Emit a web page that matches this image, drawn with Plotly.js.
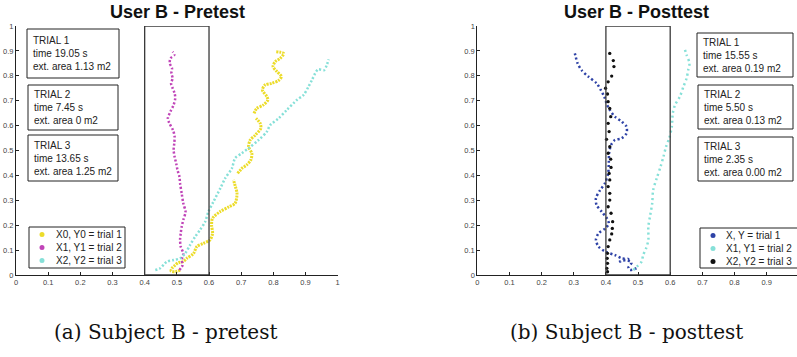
<!DOCTYPE html>
<html>
<head>
<meta charset="utf-8">
<script src="https://cdn.plot.ly/plotly-3.0.1.min.js"></script>
<style>html,body{margin:0;padding:0;background:#fff;}#chart{width:797px;height:357px;}</style>
</head>
<body>
<div id="chart"></div>
<script>
// ---------- Pretest (left) ----------
const preX0 = [0.510,0.495,0.482,0.485,0.495,0.505,0.520,0.531,0.552,0.562,0.582,0.603,0.611,0.608,0.611,0.634,0.662,0.681,0.687,0.682,0.676,null,0.689,0.702,0.717,0.730,0.733,0.723,0.728,0.744,0.761,0.759,0.746,null,0.740,0.748,0.769,0.783,0.780,0.766,0.774,0.795,0.816,0.825,0.811,0.799,0.806,0.821,0.832,0.809];
const preY0 = [0.020,0.013,0.016,0.027,0.040,0.050,0.054,0.067,0.087,0.114,0.127,0.141,0.167,0.201,0.228,0.254,0.274,0.288,0.328,0.355,0.382,null,0.408,0.428,0.442,0.462,0.489,0.515,0.542,0.562,0.589,0.609,0.629,null,0.649,0.669,0.683,0.703,0.716,0.743,0.763,0.770,0.781,0.797,0.817,0.837,0.857,0.870,0.890,0.897];

const preX1 = [0.508,0.518,0.515,0.520,0.512,0.510,0.512,0.515,0.520,0.527,0.520,0.515,0.510,0.508,0.502,0.498,0.493,0.490,0.492,0.493,0.488,0.477,0.472,0.480,0.490,0.495,0.493,0.487,0.482,0.487,0.483,0.485,0.478,0.480,0.492,0.487];
const preY1 = [0.020,0.040,0.060,0.087,0.114,0.141,0.167,0.194,0.221,0.254,0.288,0.328,0.368,0.395,0.422,0.448,0.475,0.502,0.529,0.556,0.582,0.609,0.629,0.656,0.683,0.710,0.730,0.750,0.770,0.790,0.810,0.830,0.850,0.870,0.884,0.897];

const preX2 = [0.433,0.448,0.469,0.490,0.510,0.526,0.541,0.557,0.572,0.588,0.598,0.614,0.635,0.650,0.671,0.681,0.702,0.723,0.754,0.780,0.790,0.816,0.842,0.873,0.894,0.909,0.920,0.933,0.940,0.958,0.966,0.972];
const preY2 = [0.020,0.027,0.054,0.060,0.067,0.087,0.120,0.154,0.181,0.214,0.254,0.295,0.348,0.388,0.428,0.469,0.489,0.509,0.542,0.576,0.602,0.629,0.663,0.703,0.723,0.756,0.783,0.817,0.826,0.823,0.843,0.866];

// ---------- Posttest (right) ----------
const postX0 = [0.495,0.475,0.470,0.480,0.460,0.444,0.470,0.449,0.428,0.398,0.377,0.369,0.377,0.398,0.409,0.403,0.387,0.371,0.369,0.382,0.397,0.407,0.409,0.410,0.416,0.428,0.449,0.464,0.464,0.449,0.428,0.412,0.402,0.395,0.384,0.371,0.345,0.324,0.312,0.306,0.302];
const postY0 = [0.027,0.020,0.030,0.050,0.060,0.054,0.064,0.067,0.080,0.094,0.114,0.141,0.167,0.187,0.207,0.228,0.254,0.281,0.308,0.341,0.368,0.408,0.448,0.489,0.522,0.542,0.549,0.569,0.596,0.616,0.636,0.663,0.689,0.716,0.743,0.770,0.797,0.823,0.850,0.877,0.897];

const postX1 = [0.485,0.496,0.511,0.516,0.525,0.532,0.532,0.537,0.544,0.547,0.558,0.570,0.579,0.587,0.597,0.605,0.608,0.615,0.630,0.641,0.651,0.656,0.660,0.651,0.646];
const postY1 = [0.020,0.033,0.054,0.080,0.107,0.141,0.194,0.234,0.288,0.341,0.388,0.435,0.475,0.515,0.549,0.596,0.649,0.683,0.716,0.756,0.790,0.823,0.850,0.884,0.904];

const postX2 = [0.405,0.403,0.405,0.404,0.405,0.407,0.412,0.418,0.420,0.421,0.416,0.407,0.412,0.412,0.407,0.412,0.410,0.416,0.415,0.407,0.412,0.402,0.410,0.407,0.415,0.412,0.407,0.405,0.399,0.407,0.418,0.425,0.423,0.412];
const postY2 = [0.013,0.027,0.047,0.067,0.087,0.114,0.141,0.165,0.187,0.214,0.248,0.274,0.301,0.328,0.355,0.382,0.408,0.432,0.465,0.489,0.515,0.545,0.576,0.609,0.636,0.669,0.696,0.727,0.750,0.776,0.799,0.837,0.861,0.890];

// ---------- Text ----------
const titles = ["User B - Pretest", "User B - Posttest"];
const captions = ["(a) Subject B - pretest", "(b) Subject B - posttest"];
const preBoxes = ["TRIAL 1<br>time 19.05 s<br>ext. area 1.13 m2", "TRIAL 2<br>time 7.45 s<br>ext. area 0 m2", "TRIAL 3<br>time 13.65 s<br>ext. area 1.25 m2"];
const postBoxes = ["TRIAL 1<br>time 15.55 s<br>ext. area 0.19 m2", "TRIAL 2<br>time 5.50 s<br>ext. area 0.13 m2", "TRIAL 3<br>time 2.35 s<br>ext. area 0.00 m2"];
const preLegend = ["X0, Y0 = trial 1", "X1, Y1 = trial 2", "X2, Y2 = trial 3"];
const postLegend = ["X, Y = trial 1", "X1, Y1 = trial 2", "X2, Y2 = trial 3"];

const YEL = '#ECDC2A', MAG = '#C044B8', CYA = '#86E0D8', BLU = '#2E42A6', BLK = '#111111';

const W = 797, H = 357;
const px = v => v / W, py = v => 1 - v / H;

const traces = [
  {x: preX0, y: preY0, xaxis: 'x', yaxis: 'y', mode: 'lines', line: {color: YEL, width: 3, dash: '2px,1px', shape: 'spline', smoothing: 0.8}},
  {x: preX1, y: preY1, xaxis: 'x', yaxis: 'y', mode: 'lines', line: {color: MAG, width: 2.5, dash: '2px,2px', shape: 'spline', smoothing: 0.8}},
  {x: preX2, y: preY2, xaxis: 'x', yaxis: 'y', mode: 'lines', line: {color: CYA, width: 2.5, dash: '2px,2px', shape: 'spline', smoothing: 0.8}},
  {x: postX0, y: postY0, xaxis: 'x2', yaxis: 'y2', mode: 'lines', line: {color: BLU, width: 2.5, dash: '2px,2.5px', shape: 'spline', smoothing: 0.8}},
  {x: postX1, y: postY1, xaxis: 'x2', yaxis: 'y2', mode: 'lines', line: {color: CYA, width: 2.5, dash: '2px,3px', shape: 'spline', smoothing: 0.8}},
  {x: postX2, y: postY2, xaxis: 'x2', yaxis: 'y2', mode: 'markers', marker: {color: BLK, size: 3.3}}
];

const tickFont = {family: 'Liberation Sans, Arial, sans-serif', size: 7.5, color: '#444'};
const axBase = {showline: true, linecolor: '#222', linewidth: 1, ticks: 'inside', ticklen: 3, tickcolor: '#222',
  showgrid: false, zeroline: false, tickfont: tickFont, dtick: 0.1, tick0: 0, fixedrange: true};

const yDom = [1 - 275 / H, 1 - 26 / H];

const shapes = [
  {type: 'rect', xref: 'x', yref: 'y', x0: 0.4, x1: 0.6, y0: 0, y1: 1, line: {color: '#3a3a3a', width: 1.3}},
  {type: 'rect', xref: 'x2', yref: 'y2', x0: 0.4, x1: 0.6, y0: 0, y1: 1, line: {color: '#3a3a3a', width: 1.3}},
];

const boxFont = {family: 'Liberation Sans, Arial, sans-serif', size: 10, color: '#222'};
const annotations = [];
// titles
[[177, titles[0]], [636, titles[1]]].forEach(([cx, t]) => annotations.push({
  xref: 'paper', yref: 'paper', x: px(cx), y: py(12), text: '<b>' + t + '</b>', showarrow: false,
  xanchor: 'center', yanchor: 'middle', font: {family: 'Liberation Sans, Arial, sans-serif', size: 18, color: '#111'}}));
// captions
[[165, captions[0]], [626, captions[1]]].forEach(([cx, t]) => annotations.push({
  xref: 'paper', yref: 'paper', x: px(cx), y: py(332), text: t, showarrow: false,
  xanchor: 'center', yanchor: 'middle', font: {family: 'DejaVu Serif, serif', size: 20, color: '#111'}}));
// info boxes
const preBoxPos = [[27, 29, 92, 49], [28, 85, 90, 45], [28, 135, 90, 46]];
const postBoxPos = [[697, 33, 96, 44], [698, 85, 95, 44], [698, 137, 95, 44]];
function addBoxes(list, pos) {
  list.forEach((t, i) => {
    const [x0, y0, w, h] = pos[i];
    shapes.push({type: 'rect', xref: 'paper', yref: 'paper', x0: px(x0), x1: px(x0 + w), y0: py(y0 + h), y1: py(y0),
      line: {color: '#222', width: 1}, fillcolor: 'white', layer: 'above'});
    annotations.push({xref: 'paper', yref: 'paper', x: px(x0 + 4), y: py(y0 + h / 2), text: t, showarrow: false,
      xanchor: 'left', yanchor: 'middle', align: 'left', font: boxFont});
  });
}
addBoxes(preBoxes, preBoxPos);
addBoxes(postBoxes, postBoxPos);
// legends
function addLegend(labels, colors, x0, y0, w, h, dotDx, textDx) {
  shapes.push({type: 'rect', xref: 'paper', yref: 'paper', x0: px(x0), x1: px(x0 + w), y0: py(y0 + h), y1: py(y0),
    line: {color: '#222', width: 1}, fillcolor: 'white', layer: 'above'});
  labels.forEach((t, i) => {
    const cy = y0 + 7.5 + i * 13;
    const cx = x0 + dotDx;
    shapes.push({type: 'circle', xref: 'paper', yref: 'paper', x0: px(cx - 2.5), x1: px(cx + 2.5), y0: py(cy + 2.5), y1: py(cy - 2.5),
      line: {width: 0}, fillcolor: colors[i], layer: 'above'});
    annotations.push({xref: 'paper', yref: 'paper', x: px(x0 + textDx), y: py(cy), text: t, showarrow: false,
      xanchor: 'left', yanchor: 'middle', font: boxFont});
  });
}
addLegend(preLegend, [YEL, MAG, CYA], 29, 227, 96, 41, 13, 25);
addLegend(postLegend, [BLU, CYA, BLK], 700, 228, 100, 40, 13, 24);

const layout = {
  width: W, height: H, margin: {l: 0, r: 0, t: 0, b: 0}, paper_bgcolor: 'white', plot_bgcolor: 'white',
  showlegend: false, hovermode: false,
  xaxis: Object.assign({}, axBase, {domain: [16 / W, 337.7 / W], range: [0, 1], anchor: 'y'}),
  yaxis: Object.assign({}, axBase, {domain: yDom, range: [0, 1], anchor: 'x'}),
  xaxis2: Object.assign({}, axBase, {domain: [477.3 / W, 1], range: [0, (W - 477.3) / 321.5], anchor: 'y2'}),
  yaxis2: Object.assign({}, axBase, {domain: yDom, range: [0, 1], anchor: 'x2'}),
  shapes: shapes, annotations: annotations
};

Plotly.newPlot('chart', traces, layout, {staticPlot: true, displayModeBar: false});
</script>
</body>
</html>
